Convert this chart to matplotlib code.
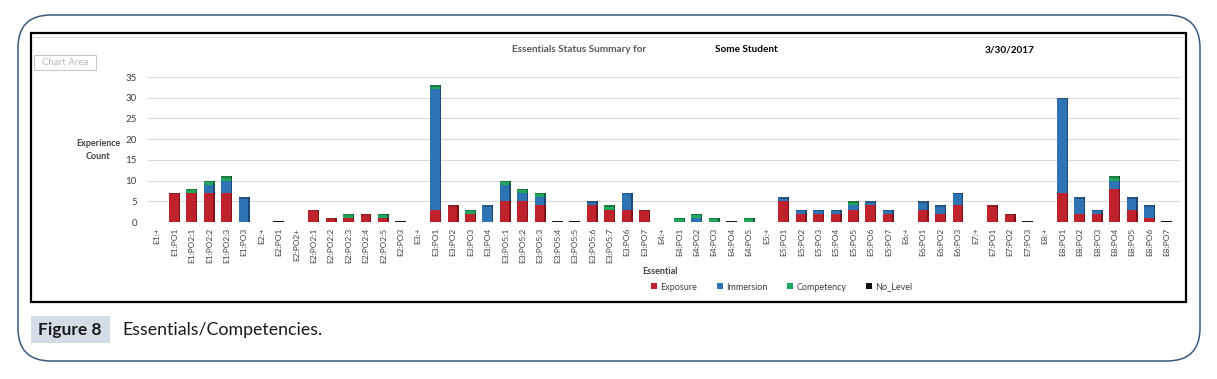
import numpy as np
import matplotlib.pyplot as plt
from matplotlib.patches import FancyBboxPatch, Rectangle

# カテゴリ (Essential)
labels = [
    "E1:+", "E1:PO1", "E1:PO2:1", "E1:PO2:2", "E1:PO2:3", "E1:PO3",
    "E2:+", "E2:PO1", "E2:PO2+", "E2:PO2:1", "E2:PO2:2", "E2:PO2:3", "E2:PO2:4", "E2:PO2:5", "E2:PO3",
    "E3:+", "E3:PO1", "E3:PO2", "E3:PO3", "E3:PO4", "E3:PO5:1", "E3:PO5:2", "E3:PO5:3",
    "E3:PO5:4", "E3:PO5:5", "E3:PO5:6", "E3:PO5:7", "E3:PO6", "E3:PO7",
    "E4:+", "E4:PO1", "E4:PO2", "E4:PO3", "E4:PO4", "E4:PO5",
    "E5:+", "E5:PO1", "E5:PO2", "E5:PO3", "E5:PO4", "E5:PO5", "E5:PO6", "E5:PO7",
    "E6:+", "E6:PO1", "E6:PO2", "E6:PO3",
    "E7:+", "E7:PO1", "E7:PO2", "E7:PO3",
    "E8:+", "E8:PO1", "E8:PO2", "E8:PO3", "E8:PO4", "E8:PO5", "E8:PO6", "E8:PO7",
]

# 各レベルの件数
exposure = [0, 7, 7, 7, 7, 0,
            0, 0, 0, 3, 1, 1, 2, 1, 0,
            0, 3, 4, 2, 0, 5, 5, 4, 0, 0, 4, 3, 3, 3,
            0, 0, 0, 0, 0, 0,
            0, 5, 2, 2, 2, 3, 4, 2,
            0, 3, 2, 4,
            0, 4, 2, 0,
            0, 7, 2, 2, 8, 3, 1, 0]
immersion = [0, 0, 0, 2, 3, 6,
             0, 0, 0, 0, 0, 0, 0, 0, 0,
             0, 29, 0, 0, 4, 4, 2, 2, 0, 0, 1, 0, 4, 0,
             0, 0, 1, 0, 0, 0,
             0, 1, 1, 1, 1, 1, 1, 1,
             0, 2, 2, 3,
             0, 0, 0, 0,
             0, 23, 4, 1, 2, 3, 3, 0]
competency = [0, 0, 1, 1, 1, 0,
              0, 0, 0, 0, 0, 1, 0, 1, 0,
              0, 1, 0, 1, 0, 1, 1, 1, 0, 0, 0, 1, 0, 0,
              0, 1, 1, 1, 0, 1,
              0, 0, 0, 0, 0, 1, 0, 0,
              0, 0, 0, 0,
              0, 0, 0, 0,
              0, 0, 0, 0, 1, 0, 0, 0]
no_level = [0, 0, 0, 0, 0, 0,
            0, 0.25, 0, 0, 0, 0, 0, 0, 0.25,
            0, 0, 0, 0, 0, 0, 0, 0, 0.25, 0.25, 0, 0, 0, 0,
            0, 0, 0, 0, 0.25, 0,
            0, 0, 0, 0, 0, 0, 0, 0,
            0, 0, 0, 0,
            0, 0, 0, 0.25,
            0, 0, 0, 0, 0, 0, 0, 0.25]

series = [("Exposure", exposure, "#c0222c", "#7d1218"),
          ("Immersion", immersion, "#2e74b5", "#1b4a78"),
          ("Competency", competency, "#1fa65a", "#11693a"),
          ("No_Level", no_level, "#111111", "#000000")]

W, H = 1217, 379
fig = plt.figure(figsize=(W / 100, H / 100), dpi=100)
plt.rcParams['font.family'] = ['Lato', 'DejaVu Sans']


def fx(px):
    return px / W


def fy(py):
    return 1 - py / H


# 外枠 (角丸)
fig.patches.append(FancyBboxPatch((fx(18), fy(361)), fx(1200 - 18), (361 - 15) / H,
                                  boxstyle="round,pad=0,rounding_size=0.027",
                                  transform=fig.transFigure, fill=False,
                                  edgecolor="#3b5a7e", linewidth=1.1,
                                  mutation_aspect=W / H))
# グラフエリアの枠
fig.patches.append(Rectangle((fx(31), fy(302)), fx(1186 - 31), (302 - 33) / H,
                             transform=fig.transFigure, fill=False,
                             edgecolor="black", linewidth=1.6))
fig.lines.append(plt.Line2D([fx(33), fx(1184)], [fy(37), fy(37)],
                            transform=fig.transFigure, color="#d8d8d8", linewidth=0.8))

# "Chart Area" ラベル
fig.patches.append(Rectangle((fx(34), fy(70)), fx(62), 15 / H, transform=fig.transFigure,
                             facecolor="white", edgecolor="#c8c8c8", linewidth=0.8))
fig.text(fx(65), fy(62.5), "Chart Area", color="#b8b8b8", fontsize=7,
         ha="center", va="center")

# タイトル
fig.text(fx(512), fy(50), "Essentials Status Summary for", color="#595959",
         fontsize=7.2, fontweight="bold", va="center")
fig.text(fx(715), fy(50), "Some Student", color="black",
         fontsize=7.2, fontweight="bold", va="center")
fig.text(fx(985), fy(50), "3/30/2017", color="black",
         fontsize=7.2, fontweight="bold", va="center")

# メインの棒グラフ
ax = fig.add_axes([fx(148), fy(222), fx(1180 - 148), (222 - 77) / H])
x = np.arange(len(labels))
bottom = np.zeros(len(labels))
bw = 0.55
for name, vals, col, dark in series:
    vals = np.array(vals, dtype=float)
    ax.bar(x - 0.04, vals, width=bw, bottom=bottom, color=col, label=name,
           linewidth=0, zorder=3)
    # 3D風の側面
    ax.bar(x + bw / 2, vals, width=0.08, bottom=bottom, color=dark,
           linewidth=0, zorder=3)
    bottom += vals

# 上面
top = bottom
mask = top > 0
ax.bar(x[mask], np.full(mask.sum(), 0.35), width=bw + 0.05, bottom=top[mask] - 0.35,
       color="#202020", alpha=0.35, linewidth=0, zorder=4)

ax.set_ylim(0, 35)
ax.set_yticks(range(0, 36, 5))
ax.set_xlim(-0.52, len(labels) - 1 + 0.75)
ax.set_xticks(x)
ax.set_xticklabels(labels, rotation=90, fontsize=6, color="#404040")
ax.tick_params(axis="y", labelsize=7, colors="#404040", length=0, pad=8)
ax.tick_params(axis="x", length=0, pad=4)
ax.grid(axis="y", color="#d9d9d9", linewidth=0.8, zorder=0)
for s in ax.spines.values():
    s.set_visible(False)

fig.text(fx(98), fy(150), "Experience\nCount", fontsize=6.5, fontweight="bold",
         color="#404040", ha="center", va="center", linespacing=1.5)
fig.text(fx(660), fy(272), "Essential", fontsize=6.5, fontweight="bold",
         color="#404040", ha="center", va="center")

handles, lbls = ax.get_legend_handles_labels()
fig.legend(handles, lbls, loc="center", bbox_to_anchor=(fx(782), fy(287)), ncol=4,
           frameon=False, fontsize=6.5, handlelength=0.6, handleheight=0.6,
           handletextpad=0.4, columnspacing=2.2, labelcolor="#404040")

# キャプション
fig.patches.append(Rectangle((fx(31), fy(343)), fx(79), 27 / H, transform=fig.transFigure,
                             facecolor="#d3dde8", edgecolor="none"))
fig.text(fx(70), fy(330), "Figure 8", fontsize=12.5, fontweight="bold",
         ha="center", va="center", color="#1a1a1a")
fig.text(fx(122), fy(330), "Essentials/Competencies.", fontsize=12.8,
         ha="left", va="center", color="#1a1a1a")

fig.savefig("out.png", dpi=100)
